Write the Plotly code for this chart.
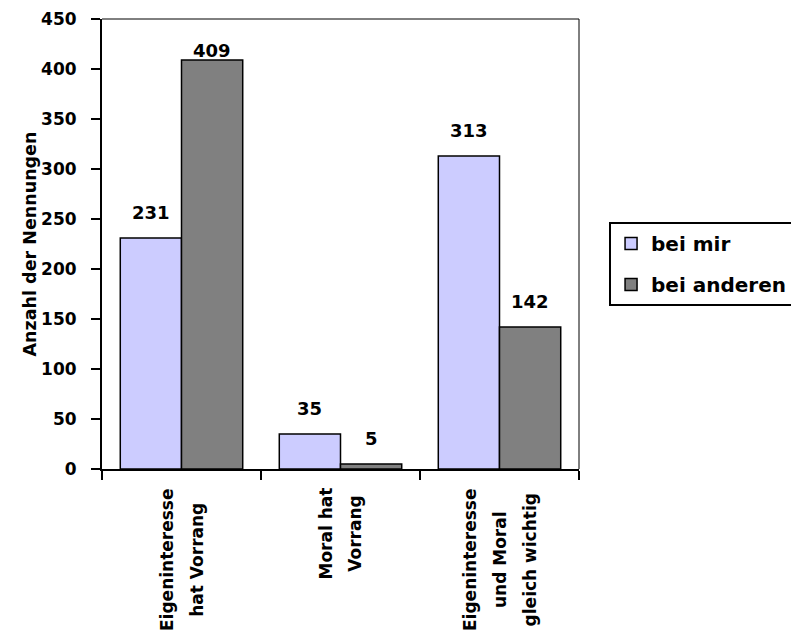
import plotly.graph_objects as go

categories = [
    ["Eigeninteresse", "hat Vorrang"],
    ["Moral hat", "Vorrang"],
    ["Eigeninteresse", "und Moral", "gleich wichtig"],
]
series_names = ["bei mir", "bei anderen"]
bei_mir = [231, 35, 313]
bei_anderen = [409, 5, 142]
y_ticks = [0, 50, 100, 150, 200, 250, 300, 350, 400, 450]

colors = ["#CCCCFF", "#808080"]
FONT = "DejaVu Sans"
BARGAP = 0.23
Y_MAX = 450

x_pos = list(range(len(categories)))
fig = go.Figure()
for k, (name, vals) in enumerate(zip(series_names, [bei_mir, bei_anderen])):
    fig.add_trace(go.Bar(
        x=x_pos, y=vals, name=name,
        marker=dict(color=colors[k], line=dict(color="black", width=1.5)),
        legendgroup=name,
    ))

# value labels
half = (1 - BARGAP) / 4
for k, vals in enumerate([bei_mir, bei_anderen]):
    off = -half if k == 0 else half
    for i, v in enumerate(vals):
        shift = min(26, (Y_MAX - v) - 31)
        fig.add_annotation(
            x=x_pos[i] + off, y=v, xref="x", yref="y", text=str(v),
            showarrow=False, yanchor="middle", yshift=shift,
            font=dict(family=FONT, size=18, color="black", weight="bold"),
        )

# category labels (rotated, centered lines)
for i, lines in enumerate(categories):
    txt = "<br>".join(f"<span style='font-size:17px'>{ln}</span>" for ln in lines)
    fig.add_annotation(
        x=x_pos[i], y=0, xref="x", yref="y", text=txt, textangle=-90,
        showarrow=False, yanchor="top", xanchor="center", yshift=-17, align="center",
        font=dict(family=FONT, size=23, color="black", weight="bold"),
    )

# thin top/right frame
fig.add_shape(type="line", xref="paper", yref="paper", x0=0, x1=1, y0=1, y1=1,
              line=dict(color="black", width=1))
fig.add_shape(type="line", xref="paper", yref="paper", x0=1, x1=1, y0=0, y1=1,
              line=dict(color="black", width=1))

fig.update_layout(
    width=791, height=640,
    margin=dict(l=102, r=212, t=19, b=171, autoexpand=False),
    paper_bgcolor="white", plot_bgcolor="white",
    barmode="group", bargap=BARGAP, bargroupgap=0,
    font=dict(family=FONT, size=17, color="black", weight="bold"),
    showlegend=True,
    legend=dict(
        x=1.063, y=0.549, xanchor="left", yanchor="top",
        bordercolor="black", borderwidth=2, bgcolor="white",
        font=dict(family=FONT, size=20, color="black", weight="bold"),
        traceorder="grouped", tracegroupgap=12,
    ),
    xaxis=dict(
        range=[-0.5, 2.5], tickvals=[-0.5, 0.5, 1.5, 2.5], showticklabels=False,
        ticks="outside", ticklen=9, tickwidth=2, tickcolor="black",
        showline=True, linecolor="black", linewidth=2, showgrid=False, zeroline=False,
    ),
    yaxis=dict(
        range=[0, Y_MAX], tickvals=y_ticks,
        ticks="outside", ticklen=9, tickwidth=2, tickcolor="black",
        ticklabelstandoff=11,
        showline=True, linecolor="black", linewidth=2, showgrid=False, zeroline=False,
        tickfont=dict(family=FONT, size=17, color="black", weight="bold"),
        title=dict(text="Anzahl der Nennungen", standoff=0,
                   font=dict(family=FONT, size=17.5, color="black", weight="bold")),
        automargin=False,
    ),
)

fig.write_html("out.html")
